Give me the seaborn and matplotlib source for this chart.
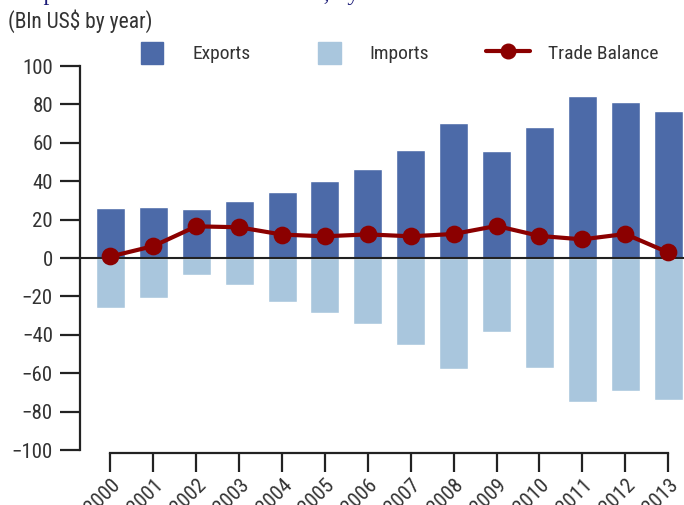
import matplotlib
matplotlib.use("Agg")
import matplotlib.pyplot as plt
import matplotlib.patches as mpatches
from matplotlib.lines import Line2D
from matplotlib.legend_handler import HandlerPatch
from matplotlib import font_manager
import pandas as pd
import seaborn as sns

# values (Bln US$)
years = ["2000", "2001", "2002", "2003", "2004", "2005", "2006",
         "2007", "2008", "2009", "2010", "2011", "2012", "2013"]
exports = [26.2, 26.8, 25.7, 29.9, 34.6, 40.3, 46.6,
           56.0, 70.1, 55.5, 68.0, 84.2, 81.0, 76.8]
imports = [-25.9, -20.7, -9.1, -14.3, -22.8, -28.9, -34.6,
           -45.1, -57.6, -38.8, -57.1, -74.8, -69.1, -73.8]
balance = [0.8, 6.2, 16.5, 16.0, 12.2, 11.3, 12.3,
           11.3, 12.5, 16.7, 11.5, 9.7, 12.5, 2.9]

export_color = "#4c6aa8"
import_color = "#a9c6dd"
balance_color = "#8b0000"
ink = "#222222"

df = pd.DataFrame({"year": years, "exports": exports,
                   "imports": imports, "balance": balance})

sns.set_style("white")
installed = {f.name for f in font_manager.fontManager.ttflist}
narrow = [n for n in ["Roboto Condensed", "Liberation Sans Narrow", "Roboto"]
          if n in installed]
plt.rcParams["font.family"] = narrow[:1] + ["DejaVu Sans"]
plt.rcParams["font.size"] = 14

fig = plt.figure(figsize=(6.84, 5.05), dpi=100)
ax = fig.add_axes([80 / 684, 55 / 505, 604 / 684, 384 / 505])

# bars
sns.barplot(data=df, x="year", y="exports", color=export_color,
            width=0.676, saturation=1, ax=ax)
sns.barplot(data=df, x="year", y="imports", color=import_color,
            width=0.676, saturation=1, ax=ax)
ax.axhline(0, color=ink, lw=1.5, zorder=3)

# trade balance line
sns.pointplot(data=df, x="year", y="balance", color=balance_color,
              markers="o", markersize=10.5, linewidth=3, errorbar=None,
              ax=ax, zorder=4)

ax.set_xlim(-0.71, 13.37)
ax.set_ylim(-100, 100)
ax.set_yticks(range(-100, 101, 20))
ax.set_xlabel("")
ax.set_ylabel("")

for side in ["top", "right"]:
    ax.spines[side].set_visible(False)
for side in ["left", "bottom"]:
    ax.spines[side].set_color(ink)
    ax.spines[side].set_linewidth(1.6)
ax.spines["bottom"].set_bounds(0, 13)
ax.spines["bottom"].set_position(("outward", 2.5))

ax.tick_params(axis="y", direction="out", length=14.5, width=1.6,
               color=ink, pad=5, labelsize=15, labelcolor="#333333")
ax.tick_params(axis="x", direction="out", length=13.5, width=1.6,
               color=ink, pad=2, labelsize=15, labelcolor="#333333")
ax.tick_params(left=True, bottom=True)
plt.setp(ax.get_xticklabels(), rotation=45, ha="right", va="top",
         rotation_mode="anchor")


# legend: square patches centred in a wide handle box
def square_patch(legend, orig_handle, xdescent, ydescent, width, height, fontsize):
    return mpatches.Rectangle((-xdescent + (width - height) / 2, -ydescent),
                              height, height)


handles = [mpatches.Patch(color=export_color),
           mpatches.Patch(color=import_color),
           Line2D([], [], color=balance_color, lw=3, marker="o", markersize=10.5)]
labels = ["Exports", "Imports", "Trade Balance"]
fig.legend(handles, labels, loc="center left",
           bbox_to_anchor=(130 / 684, 1 - 53 / 505), ncol=3, frameon=False,
           handlelength=2.27, handleheight=1.4, handletextpad=0.95,
           columnspacing=2.9, borderpad=0, borderaxespad=0,
           fontsize=14, labelcolor="#333333",
           handler_map={mpatches.Patch: HandlerPatch(patch_func=square_patch)})

# texts at the top (title is cut off in the original)
fig.text(8 / 684, 1.0, "Graph 1: Total merchandise trade, by value",
         family=["Liberation Serif", "DejaVu Serif"], fontsize=17,
         color="#1c1c78", va="baseline", ha="left")
fig.text(8 / 684, 1 - 21 / 505, "(Bln US$ by year)", fontsize=15.5,
         color="#333333", va="center", ha="left")

fig.savefig("out.png", dpi=100)
